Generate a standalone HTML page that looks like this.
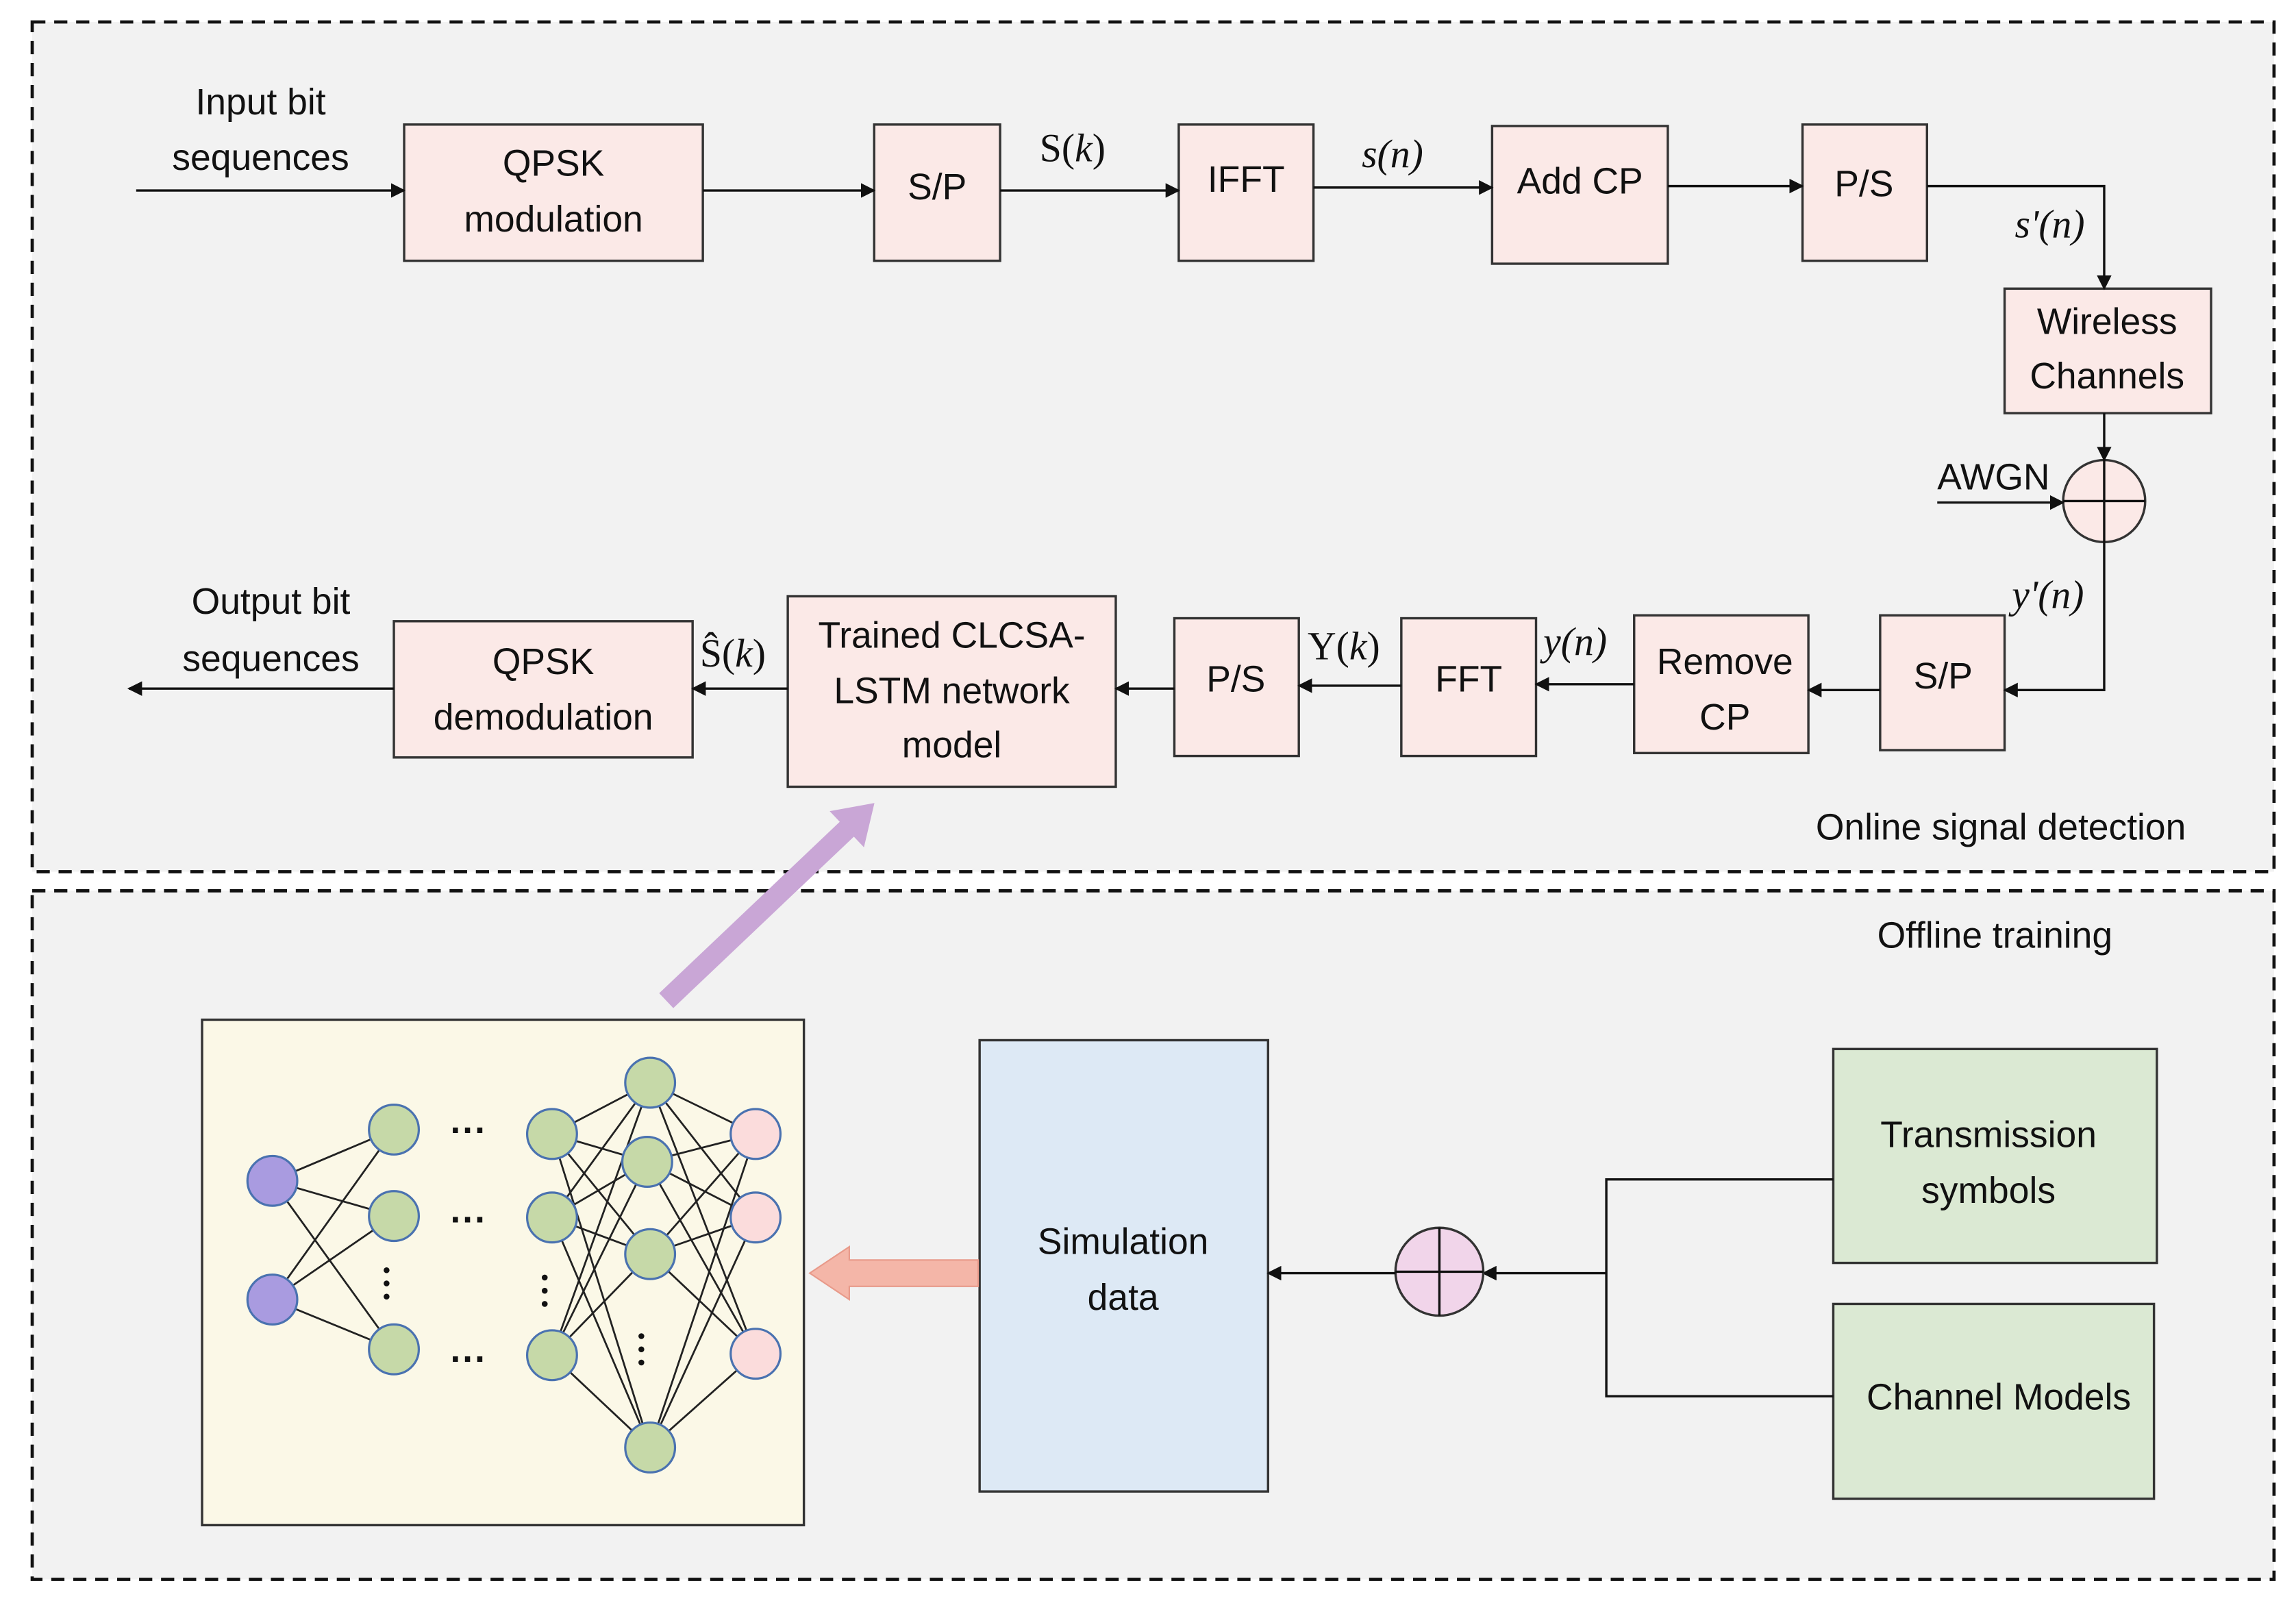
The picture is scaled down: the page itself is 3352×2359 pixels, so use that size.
<!DOCTYPE html>
<html><head><meta charset="utf-8"><style>
html,body{margin:0;padding:0;background:#fff}
svg{display:block}
text{font-family:"Liberation Sans",sans-serif;font-size:25px;fill:#111}
.m{font-family:"Liberation Serif",serif;font-size:27px;font-style:italic}
.r{font-family:"Liberation Serif",serif;font-size:27px}
.b{fill:#fbe9e7;stroke:#333;stroke-width:1.6}
.l{stroke:#111;stroke-width:1.6;fill:none}
.n{stroke:#222;stroke-width:1.3}
</style></head><body>
<svg width="3352" height="2359" viewBox="0 0 1568 1103" preserveAspectRatio="none" xmlns="http://www.w3.org/2000/svg">
<defs><marker id="a" markerWidth="10" markerHeight="10" refX="9" refY="5" orient="auto" markerUnits="userSpaceOnUse"><path d="M0,0 L10,5 L0,10 z" fill="#111"/></marker></defs>
<rect x="0" y="0" width="1568" height="1103" fill="#fff"/>
<rect x="22" y="15" width="1531" height="580" fill="#f2f2f2" stroke="#111" stroke-width="2.2" stroke-dasharray="9,6"/>
<rect x="22" y="608" width="1531" height="470" fill="#f2f2f2" stroke="#111" stroke-width="2.2" stroke-dasharray="9,6"/>

<!-- top boxes -->
<rect class="b" x="276" y="85" width="204" height="93"/><text x="378" y="120" text-anchor="middle">QPSK</text><text x="378" y="158" text-anchor="middle">modulation</text>
<rect class="b" x="597" y="85" width="86" height="93"/><text x="640" y="136" text-anchor="middle">S/P</text>
<rect class="b" x="805" y="85" width="92" height="93"/><text x="851" y="131" text-anchor="middle">IFFT</text>
<rect class="b" x="1019" y="86" width="120" height="94"/><text x="1079" y="132" text-anchor="middle">Add CP</text>
<rect class="b" x="1231" y="85" width="85" height="93"/><text x="1273" y="134" text-anchor="middle">P/S</text>
<rect class="b" x="1369" y="197" width="141" height="85"/><text x="1439" y="228" text-anchor="middle">Wireless</text><text x="1439" y="265" text-anchor="middle">Channels</text>
<circle cx="1437" cy="342" r="28" fill="#fbe9e7" stroke="#333" stroke-width="1.6"/>
<line x1="1409" y1="342" x2="1465" y2="342" class="l"/><line x1="1437" y1="314" x2="1437" y2="370" class="l"/>
<rect class="b" x="1284" y="420" width="85" height="92"/><text x="1327" y="470" text-anchor="middle">S/P</text>
<rect class="b" x="1116" y="420" width="119" height="94"/><text x="1178" y="460" text-anchor="middle">Remove</text><text x="1178" y="498" text-anchor="middle">CP</text>
<rect class="b" x="957" y="422" width="92" height="94"/><text x="1003" y="472" text-anchor="middle">FFT</text>
<rect class="b" x="802" y="422" width="85" height="94"/><text x="844" y="472" text-anchor="middle">P/S</text>
<rect class="b" x="538" y="407" width="224" height="130"/><text x="650" y="442" text-anchor="middle">Trained CLCSA-</text><text x="650" y="480" text-anchor="middle">LSTM network</text><text x="650" y="517" text-anchor="middle">model</text>
<rect class="b" x="269" y="424" width="204" height="93"/><text x="371" y="460" text-anchor="middle">QPSK</text><text x="371" y="498" text-anchor="middle">demodulation</text>

<text x="178" y="78" text-anchor="middle">Input bit</text><text x="178" y="116" text-anchor="middle">sequences</text>
<text x="185" y="419" text-anchor="middle">Output bit</text><text x="185" y="458" text-anchor="middle">sequences</text>
<text x="1323" y="334">AWGN</text>
<text x="1240" y="573">Online signal detection</text>
<text x="1282" y="647">Offline training</text>

<text class="r" x="710" y="110">S(<tspan class="m">k</tspan>)</text>
<text class="m" x="930" y="114">s(n)</text>
<text class="m" x="1376" y="162">s'(n)</text>
<text class="m" x="1374" y="415">y'(n)</text>
<text class="m" x="1054" y="447">y(n)</text>
<text class="r" x="893" y="450">Y(<tspan class="m">k</tspan>)</text>
<text class="r" x="478" y="455">Ŝ(<tspan class="m">k</tspan>)</text>

<!-- top arrows -->
<line class="l" x1="93" y1="130" x2="276" y2="130" marker-end="url(#a)"/>
<line class="l" x1="480" y1="130" x2="597" y2="130" marker-end="url(#a)"/>
<line class="l" x1="683" y1="130" x2="805" y2="130" marker-end="url(#a)"/>
<line class="l" x1="897" y1="128" x2="1019" y2="128" marker-end="url(#a)"/>
<line class="l" x1="1139" y1="127" x2="1231" y2="127" marker-end="url(#a)"/>
<polyline class="l" points="1316,127 1437,127 1437,197" marker-end="url(#a)"/>
<line class="l" x1="1437" y1="282" x2="1437" y2="314" marker-end="url(#a)"/>
<line class="l" x1="1323" y1="343" x2="1409" y2="343" marker-end="url(#a)"/>
<polyline class="l" points="1437,370 1437,471 1369,471" marker-end="url(#a)"/>
<line class="l" x1="1284" y1="471" x2="1235" y2="471" marker-end="url(#a)"/>
<line class="l" x1="1116" y1="467" x2="1049" y2="467" marker-end="url(#a)"/>
<line class="l" x1="957" y1="468" x2="887" y2="468" marker-end="url(#a)"/>
<line class="l" x1="802" y1="470" x2="762" y2="470" marker-end="url(#a)"/>
<line class="l" x1="538" y1="470" x2="473" y2="470" marker-end="url(#a)"/>
<line class="l" x1="269" y1="470" x2="88" y2="470" marker-end="url(#a)"/>

<!-- bottom -->
<rect x="138" y="696" width="411" height="345" fill="#fbf8e7" stroke="#333" stroke-width="1.6"/>
<rect x="669" y="710" width="197" height="308" fill="#dde9f5" stroke="#333" stroke-width="1.6"/>
<text x="767" y="856" text-anchor="middle">Simulation</text><text x="767" y="894" text-anchor="middle">data</text>
<rect x="1252" y="716" width="221" height="146" fill="#dbe9d3" stroke="#333" stroke-width="1.6"/>
<text x="1358" y="783" text-anchor="middle">Transmission</text><text x="1358" y="821" text-anchor="middle">symbols</text>
<rect x="1252" y="890" width="219" height="133" fill="#dbe9d3" stroke="#333" stroke-width="1.6"/>
<text x="1365" y="962" text-anchor="middle">Channel Models</text>
<polyline class="l" points="1252,805 1097,805 1097,953 1252,953"/>
<line class="l" x1="1097" y1="869" x2="1013" y2="869" marker-end="url(#a)"/>
<circle cx="983" cy="868" r="30" fill="#f1d5ea" stroke="#333" stroke-width="1.6"/>
<line class="l" x1="953" y1="868" x2="1013" y2="868"/><line class="l" x1="983" y1="838" x2="983" y2="898"/>
<line class="l" x1="953" y1="869" x2="866" y2="869" marker-end="url(#a)"/>
<polygon points="668,860 580,860 580,851 553,869 580,887 580,878 668,878" fill="#f4b6a8" stroke="#e89a8a" stroke-width="1"/>
<g transform="translate(455,683) rotate(-43.5)"><polygon points="0,-7 170,-7 170,-17 196,0 170,17 170,7 0,7" fill="#c9a6d6"/></g>

<!-- network -->
<g class="n">
<line x1="186" y1="806" x2="269" y2="771"/><line x1="186" y1="806" x2="269" y2="830"/><line x1="186" y1="806" x2="269" y2="921"/>
<line x1="186" y1="887" x2="269" y2="771"/><line x1="186" y1="887" x2="269" y2="830"/><line x1="186" y1="887" x2="269" y2="921"/>
<g>
<line x1="377" y1="774" x2="444" y2="739"/><line x1="377" y1="774" x2="442" y2="793"/><line x1="377" y1="774" x2="444" y2="856"/><line x1="377" y1="774" x2="444" y2="988"/>
<line x1="377" y1="831" x2="444" y2="739"/><line x1="377" y1="831" x2="442" y2="793"/><line x1="377" y1="831" x2="444" y2="856"/><line x1="377" y1="831" x2="444" y2="988"/>
<line x1="377" y1="925" x2="444" y2="739"/><line x1="377" y1="925" x2="442" y2="793"/><line x1="377" y1="925" x2="444" y2="856"/><line x1="377" y1="925" x2="444" y2="988"/>
<line x1="444" y1="739" x2="516" y2="774"/><line x1="444" y1="739" x2="516" y2="831"/><line x1="444" y1="739" x2="516" y2="924"/>
<line x1="442" y1="793" x2="516" y2="774"/><line x1="442" y1="793" x2="516" y2="831"/><line x1="442" y1="793" x2="516" y2="924"/>
<line x1="444" y1="856" x2="516" y2="774"/><line x1="444" y1="856" x2="516" y2="831"/><line x1="444" y1="856" x2="516" y2="924"/>
<line x1="444" y1="988" x2="516" y2="774"/><line x1="444" y1="988" x2="516" y2="831"/><line x1="444" y1="988" x2="516" y2="924"/>
</g>
</g>
<g stroke="#4a72b0" stroke-width="1.5">
<circle cx="186" cy="806" r="17" fill="#a99be0"/><circle cx="186" cy="887" r="17" fill="#a99be0"/>
<g fill="#c6d9a8"><circle cx="269" cy="771" r="17"/><circle cx="269" cy="830" r="17"/><circle cx="269" cy="921" r="17"/>
<circle cx="377" cy="774" r="17"/><circle cx="377" cy="831" r="17"/><circle cx="377" cy="925" r="17"/>
<circle cx="444" cy="739" r="17"/><circle cx="442" cy="793" r="17"/><circle cx="444" cy="856" r="17"/><circle cx="444" cy="988" r="17"/></g>
<g fill="#fbdcdc"><circle cx="516" cy="774" r="17"/><circle cx="516" cy="831" r="17"/><circle cx="516" cy="924" r="17"/></g>
</g>
<g fill="#111">
<text x="320" y="780" text-anchor="middle" style="font-weight:bold">···</text>
<text x="320" y="841" text-anchor="middle" style="font-weight:bold">···</text>
<text x="320" y="936" text-anchor="middle" style="font-weight:bold">···</text>
<circle cx="264" cy="867" r="2"/><circle cx="264" cy="876" r="2"/><circle cx="264" cy="885" r="2"/>
<circle cx="372" cy="872" r="2"/><circle cx="372" cy="881" r="2"/><circle cx="372" cy="890" r="2"/>
<circle cx="438" cy="912" r="2"/><circle cx="438" cy="921" r="2"/><circle cx="438" cy="930" r="2"/>
</g>
</svg>
</body></html>
